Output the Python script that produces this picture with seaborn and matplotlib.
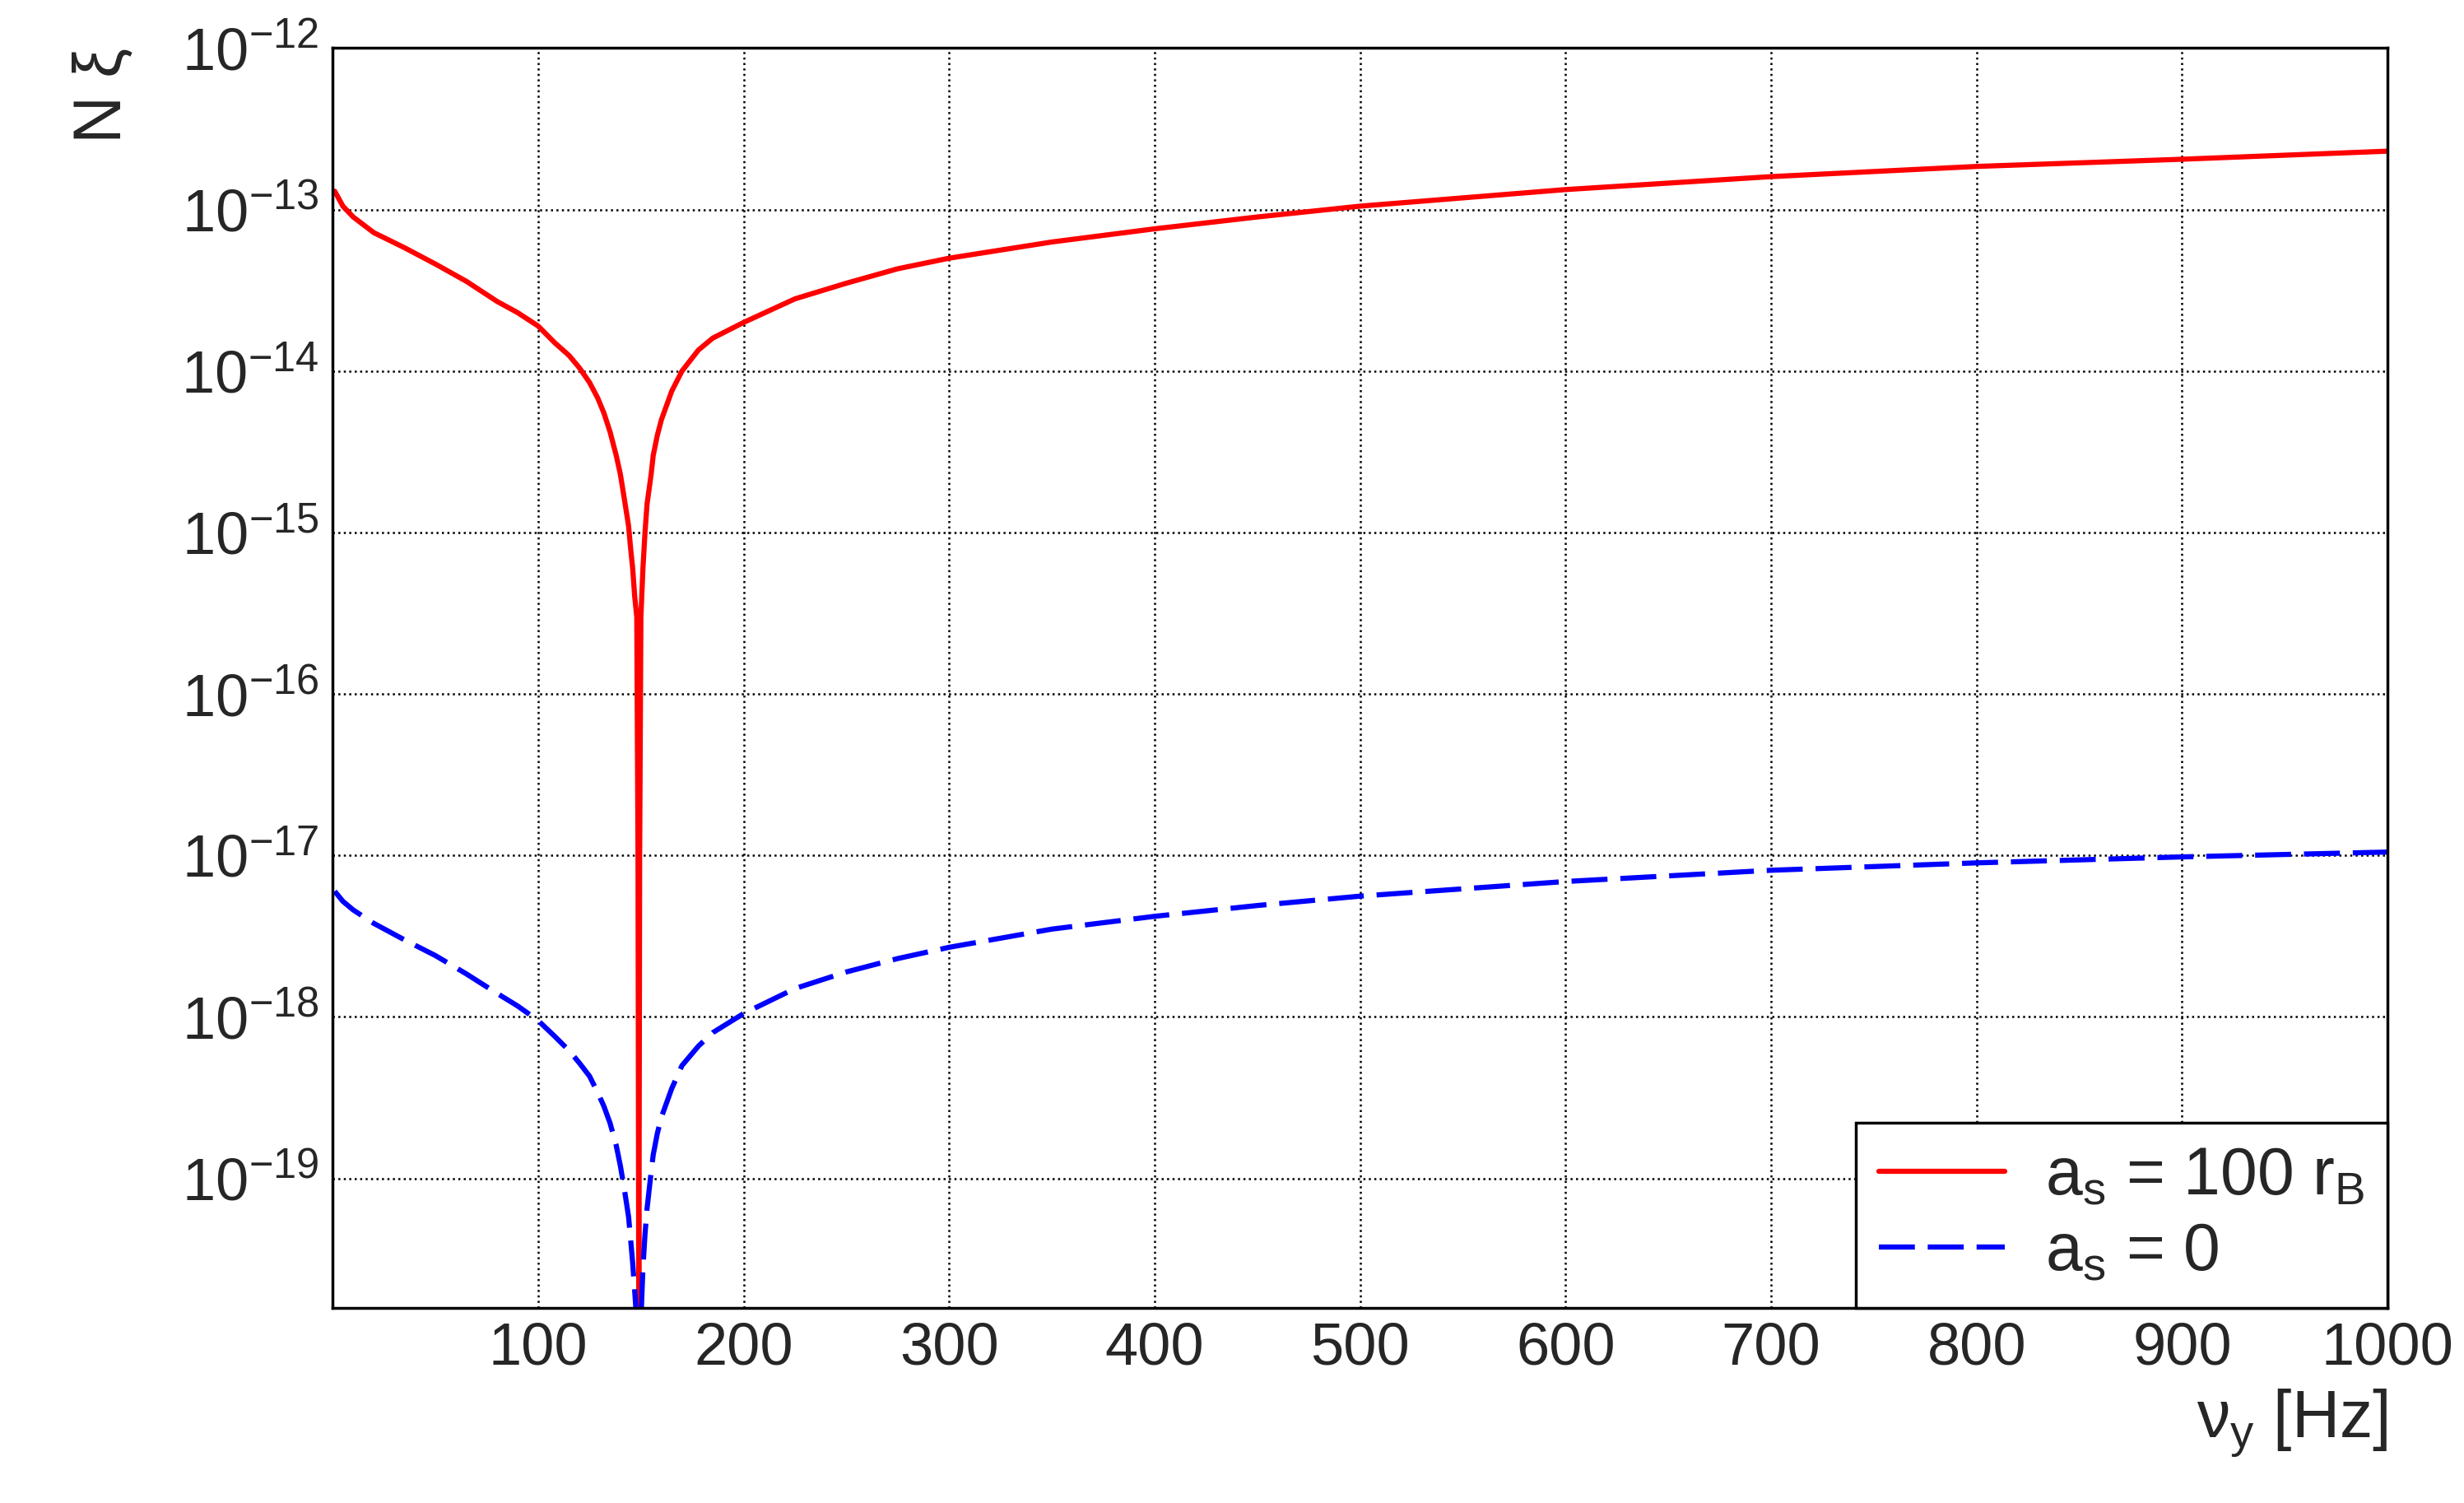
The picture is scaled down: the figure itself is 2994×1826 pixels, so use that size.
import numpy as np
import matplotlib
matplotlib.use('Agg')
import matplotlib.pyplot as plt
import seaborn as sns
import pandas as pd
from matplotlib.ticker import LogLocator, MultipleLocator, NullFormatter

sns.set_style('white')
plt.rcParams['font.family'] = ['Liberation Sans', 'DejaVu Sans']
plt.rcParams['mathtext.fontset'] = 'custom'
plt.rcParams['mathtext.rm'] = 'Liberation Sans'
plt.rcParams['mathtext.it'] = 'Liberation Sans'

# values
freq = [1, 5, 10, 20, 35, 50, 65, 80, 90, 100, 108, 115, 120, 125, 129, 132, 135, 138, 140, 142,
        144, 145, 146, 147, 148, 148.6, 149, 149.4, 150, 151, 152, 153, 155, 156, 158, 160, 165,
        170, 178, 185, 200, 225, 250, 275, 300, 350, 400, 450, 500, 600, 700, 800, 900, 1000]
red = [1.3e-13, 1.05e-13, 9e-14, 7.2e-14, 5.8e-14, 4.6e-14, 3.6e-14, 2.7e-14, 2.3e-14, 1.9e-14,
       1.5e-14, 1.25e-14, 1.05e-14, 8.5e-15, 6.8e-15, 5.5e-15, 4.2e-15, 3e-15, 2.3e-15, 1.6e-15,
       1.1e-15, 8e-16, 6e-16, 4e-16, 3e-16, 1e-17, 1e-20, 1e-17, 3e-16, 6e-16, 1e-15, 1.5e-15,
       2.3e-15, 3e-15, 4e-15, 5e-15, 7.5e-15, 1e-14, 1.35e-14, 1.6e-14, 2e-14, 2.8e-14, 3.5e-14,
       4.3e-14, 5e-14, 6.3e-14, 7.6e-14, 9e-14, 1.05e-13, 1.33e-13, 1.6e-13, 1.85e-13, 2.05e-13,
       2.3e-13]
blue = [6e-18, 5.2e-18, 4.6e-18, 3.8e-18, 3e-18, 2.4e-18, 1.85e-18, 1.4e-18, 1.17e-18, 9.5e-19,
        7.6e-19, 6.2e-19, 5.2e-19, 4.3e-19, 3.4e-19, 2.8e-19, 2.2e-19, 1.6e-19, 1.2e-19, 8.5e-20,
        5.8e-20, 4.2e-20, 3e-20, 2e-20, 1.3e-20, 5e-21, 1e-22, 5e-21, 1.3e-20, 2.8e-20, 4.5e-20,
        6.5e-20, 1.1e-19, 1.4e-19, 1.9e-19, 2.4e-19, 3.6e-19, 5e-19, 6.6e-19, 8e-19, 1.05e-18,
        1.5e-18, 1.9e-18, 2.3e-18, 2.7e-18, 3.5e-18, 4.2e-18, 4.9e-18, 5.6e-18, 6.9e-18, 8.1e-18,
        9e-18, 9.8e-18, 1.05e-17]

df = pd.DataFrame({'freq': freq, 'red': red, 'blue': blue})

fig = plt.figure(figsize=(29.94, 18.26), dpi=100)
ax = fig.add_axes([0.135, 0.13, 0.834, 0.838])

sns.lineplot(data=df, x='freq', y='red', ax=ax, color='#ff0000', lw=4.5,
             label=r'a$_{\rm s}$ = 100 r$_{\rm B}$')
sns.lineplot(data=df, x='freq', y='blue', ax=ax, color='#0000ff', lw=4.5,
             dashes=(7, 2.5), label=r'a$_{\rm s}$ = 0')

ax.set_yscale('log')
ax.set_xlim(0, 1000)
ax.set_ylim(10**-19.8, 1e-12)
ax.xaxis.set_major_locator(MultipleLocator(100))
ax.xaxis.set_minor_locator(MultipleLocator(20))
ax.yaxis.set_major_locator(LogLocator(base=10, numticks=20))
ax.yaxis.set_minor_locator(LogLocator(base=10, subs=np.arange(2, 10), numticks=20))
ax.yaxis.set_minor_formatter(NullFormatter())
ax.set_xticks([100, 200, 300, 400, 500, 600, 700, 800, 900, 1000])
ax.tick_params(which='major', direction='in', length=30, width=1.8, labelsize=52, pad=12)
ax.tick_params(which='minor', direction='in', length=15, width=1.8)
ax.grid(True, which='major', ls=':', color='black', lw=1.8)
for s in ax.spines.values():
    s.set_color('black')
    s.set_linewidth(2.5)

ax.set_xlabel(r'$\nu_{\rm y}$ [Hz]', fontsize=58, loc='right', labelpad=10)
ax.set_ylabel(r'N $\xi$', fontsize=58, loc='top', labelpad=40)

leg = ax.legend(loc='lower right', fontsize=58, frameon=True, fancybox=False,
                edgecolor='black', framealpha=1, borderaxespad=0, handlelength=1.9,
                borderpad=0.35, labelspacing=0.2, handletextpad=0.6)
leg.get_frame().set_linewidth(2.5)

fig.savefig('out.png', dpi=100, facecolor='white')
